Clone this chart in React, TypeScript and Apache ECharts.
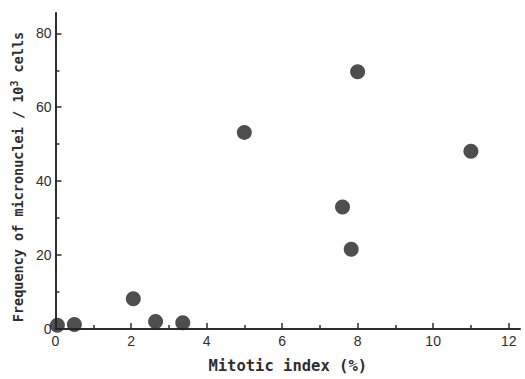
import React, { useEffect, useRef } from "react";
import * as echarts from "echarts";

const mitoticIndex = [0.05, 0.5, 2.06, 2.65, 3.37, 5.0, 7.6, 7.83, 8.0, 11.0];
const micronuclei = [1.0, 1.2, 8.2, 2.0, 1.7, 53.2, 33.0, 21.6, 69.6, 48.1];
const xMajorTicks = [0, 2, 4, 6, 8, 10, 12];
const xMinorTicks = [1, 3, 5, 7, 9, 11];
const yMajorTicks = [0, 20, 40, 60, 80];
const yMinorTicks = [10, 30, 50, 70];

const INK = "#2e2e2e";
const X_MAX = 12.3;
const Y_MAX = 85.5;

export default function App() {
  const ref = useRef<HTMLDivElement>(null);
  useEffect(() => {
    if (!ref.current) return;
    const chart = echarts.init(ref.current, null, { renderer: "svg" });
    const tickLabel = {
      color: INK,
      fontFamily: "Liberation Sans",
      fontSize: 14,
    };
    const nameStyle = {
      color: INK,
      fontFamily: "DejaVu Sans Mono",
      fontWeight: "bold" as const,
    };
    chart.setOption({
      animation: false,
      backgroundColor: "#fff",
      grid: { left: 55.5, right: 5, top: 13, bottom: 42, containLabel: false },
      xAxis: [
        {
          type: "value",
          min: 0,
          max: X_MAX,
          position: "bottom",
          splitLine: { show: false },
          axisLine: { show: true, lineStyle: { color: INK, width: 2 } },
          axisTick: {
            show: true,
            inside: true,
            length: 6,
            customValues: xMajorTicks,
            lineStyle: { color: INK, width: 1.5 },
          },
          axisLabel: { ...tickLabel, margin: 5, customValues: xMajorTicks },
          name: "Mitotic index (%)",
          nameLocation: "middle",
          nameGap: 29,
          nameTextStyle: { ...nameStyle, fontSize: 15.5 },
        },
        {
          type: "value",
          min: 0,
          max: X_MAX,
          position: "bottom",
          splitLine: { show: false },
          axisLine: { show: false },
          axisTick: {
            show: true,
            inside: true,
            length: 4,
            customValues: xMinorTicks,
            lineStyle: { color: INK, width: 1.5 },
          },
          axisLabel: { show: false },
        },
      ],
      yAxis: [
        {
          type: "value",
          min: 0,
          max: Y_MAX,
          position: "left",
          splitLine: { show: false },
          axisLine: { show: true, lineStyle: { color: INK, width: 2 } },
          axisTick: {
            show: true,
            inside: true,
            length: 6,
            customValues: yMajorTicks,
            lineStyle: { color: INK, width: 1.5 },
          },
          axisLabel: { ...tickLabel, margin: 4, customValues: yMajorTicks },
          name: "Frequency of micronuclei / 10{sup|3} cells",
          nameLocation: "middle",
          nameGap: 27,
          nameRotate: 90,
          nameTextStyle: {
            ...nameStyle,
            fontSize: 13.5,
            padding: [0, 12, 0, 0],
            rich: {
              sup: {
                ...nameStyle,
                fontSize: 10,
                verticalAlign: "top",
                padding: [0, 0, 8, 0],
              },
            },
          },
        },
        {
          type: "value",
          min: 0,
          max: Y_MAX,
          position: "left",
          splitLine: { show: false },
          axisLine: { show: false },
          axisTick: {
            show: true,
            inside: true,
            length: 4,
            customValues: yMinorTicks,
            lineStyle: { color: INK, width: 1.5 },
          },
          axisLabel: { show: false },
        },
      ],
      series: [
        {
          type: "scatter",
          xAxisIndex: 0,
          yAxisIndex: 0,
          symbol: "circle",
          symbolSize: 15,
          itemStyle: { color: "#222" },
          data: mitoticIndex.map((x, i) => [x, micronuclei[i]]),
        },
      ],
    });
    return () => chart.dispose();
  }, []);
  return (
    <div
      ref={ref}
      style={{ position: "fixed", left: 0, top: 0, width: 525, height: 379 }}
    />
  );
}
